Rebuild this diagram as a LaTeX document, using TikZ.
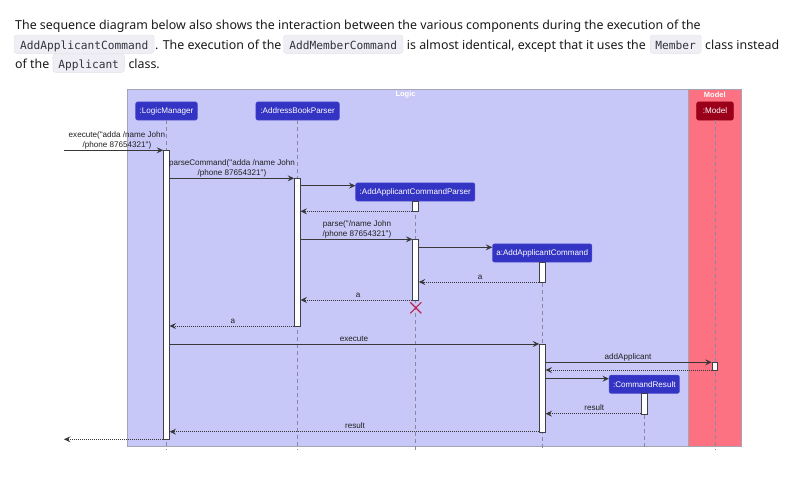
\documentclass[tikz,border=0pt]{standalone}
\usepackage{fontspec}
\setmainfont{Noto Sans}
\newfontfamily\diafont{Liberation Sans}
\newfontfamily\codefont{DejaVu Sans Mono}
\usetikzlibrary{arrows.meta,shapes.misc}
\definecolor{bodytext}{HTML}{1A1A1A}
\definecolor{codebg}{HTML}{EEEEF4}
\definecolor{codeborder}{HTML}{E2E2EA}
\definecolor{codetext}{HTML}{333340}
\definecolor{logicbg}{HTML}{C8C8F8}
\definecolor{logicborder}{HTML}{A4A4B4}
\definecolor{modelbg}{HTML}{FD7282}
\definecolor{partblue}{HTML}{3434C4}
\definecolor{partborder}{HTML}{5050D0}
\definecolor{modelpart}{HTML}{9A0019}
\definecolor{bardraw}{HTML}{404048}
\definecolor{lifegray}{HTML}{8888A0}
\definecolor{arrowgray}{HTML}{383838}
\definecolor{labeltext}{HTML}{202020}
\definecolor{destroyred}{HTML}{C0224E}
\tikzset{
  bodytxt/.style={font=\fontsize{12.4}{14}\selectfont, text=bodytext, inner sep=0pt, anchor=base west},
  codebox/.style={fill=codebg, draw=codeborder, line width=0.4pt, rounded corners=2.5pt, inner sep=0pt,
    text height=14pt, text depth=4.3pt, anchor=base west,
    font=\codefont\fontsize{11.2}{13}\selectfont, text=codetext},
  frame/.style={draw=logicborder, line width=0.6pt, inner sep=0pt},
  grouptitle/.style={font=\diafont\bfseries\fontsize{7.5}{9}\selectfont, text=white, inner sep=0pt},
  part/.style={fill=partblue, draw=partborder, line width=0.5pt, rounded corners=2pt, text=white,
    font=\diafont\fontsize{8.1}{9}\selectfont, inner sep=0pt, minimum height=18.3pt},
  actbar/.style={fill=white, draw=bardraw, line width=0.8pt, minimum width=5.6pt, inner sep=0pt},
  lifeline/.style={draw=lifegray, dash pattern=on 4pt off 3pt, line width=0.6pt},
  msg/.style={draw=arrowgray, line width=0.7pt, -{Stealth[length=6.5pt,width=6pt,inset=2.5pt]}},
  ret/.style={msg, dash pattern=on 1pt off 1pt},
  lbl/.style={font=\diafont\fontsize{8.1}{10}\selectfont, text=labeltext, inner sep=0pt, align=center},
  destroy/.style={cross out, draw=destroyred, line width=1.1pt, minimum size=10pt, inner sep=0pt}
}
\begin{document}
\begin{tikzpicture}[x=1pt,y=-1pt]
\useasboundingbox (0,0) rectangle (801,493);
% ---------- text above ----------
\node[bodytxt] (t1) at (15,29.5) {The sequence diagram below also shows the interaction between the various components during the execution of the};
\node[codebox, minimum width=140pt] (c1) at (14,49) {AddApplicantCommand};
\node[bodytxt] (t2) at (155,49) {. The execution of the};
\node[codebox, minimum width=119.5pt] (c2) at (283.3,49) {AddMemberCommand};
\node[bodytxt] (t3) at (406.7,49) {is almost identical, except that it uses the};
\node[codebox, minimum width=51pt] (c3) at (650,49) {Member};
\node[bodytxt] (t4) at (705,49) {class instead};
\node[bodytxt] (t5) at (15,68) {of the};
\node[codebox, minimum width=71.5pt] (c4) at (52.7,68) {Applicant};
\node[bodytxt] (t6) at (128.3,68) {class.};
% ---------- group frames ----------
\node[frame, fill=logicbg, minimum width=561pt, minimum height=357.5pt] (logic) at (407.5,267.75) {};
\node[frame, fill=modelbg, minimum width=53.5pt, minimum height=357.5pt] (model) at (714.75,267.75) {};
\node[grouptitle] (logict) at (405.5,95) {Logic};
\node[grouptitle] (modelt) at (714.75,95) {Model};
% ---------- participants ----------
\node[part, minimum width=61.6pt] (lm) at (166.5,111) {:LogicManager};
\node[part, minimum width=83.3pt] (abp) at (297.6,111) {:AddressBookParser};
\node[part, fill=modelpart, draw=modelpart, minimum width=36.6pt] (md) at (715,111) {:Model};
% bottom helper
\coordinate (bot) at (0,449.5);
% lifelines
\draw[lifeline] (lm.south) -- (lm.south |- bot);
\draw[lifeline] (abp.south) -- (abp.south |- bot);
\draw[lifeline] (md.south) -- (md.south |- bot);
% created participants
\node[part, minimum width=119.3pt] (acp) at (415.3,192) {:AddApplicantCommandParser};
\node[part, minimum width=99.4pt] (aac) at (542.2,253) {a:AddApplicantCommand};
\node[part, minimum width=70.3pt] (cr) at (644.3,384.2) {:CommandResult};
\draw[lifeline] (acp.south) -- (acp.south |- bot);
\draw[lifeline] (aac.south) -- (aac.south |- bot);
\draw[lifeline] (cr.south) -- (cr.south |- bot);
% ---------- activation bars ----------
\node[actbar, minimum height=289pt, anchor=north] (lmA) at (166.4,150.3) {};
\node[actbar, minimum height=147.8pt, anchor=north] (abpA) at (297.3,178.2) {};
\node[actbar, minimum height=10pt, anchor=north] (acpA) at (415.6,201.3) {};
\node[actbar, minimum height=60.7pt, anchor=north] (acpB) at (415.6,239.3) {};
\node[actbar, minimum height=19.7pt, anchor=north] (aacA) at (542.4,262.3) {};
\node[actbar, minimum height=87.5pt, anchor=north] (aacB) at (542.4,344) {};
\node[actbar, minimum height=7.7pt, anchor=north] (modA) at (714.9,362.3) {};
\node[actbar, minimum height=20.4pt, anchor=north] (crA) at (644.4,393.3) {};
% ---------- message levels ----------
\coordinate (y1) at (0,150.3);
\coordinate (y2) at (0,178.3);
\coordinate (y3) at (0,185.7);
\coordinate (y4) at (0,211.3);
\coordinate (y5) at (0,239.3);
\coordinate (y6) at (0,247.3);
\coordinate (y7) at (0,282);
\coordinate (y8) at (0,300);
\coordinate (y10) at (0,326);
\coordinate (y11) at (0,344);
\coordinate (y12) at (0,362.3);
\coordinate (y13) at (0,370);
\coordinate (y14) at (0,378.7);
\coordinate (y15) at (0,413.7);
\coordinate (y16) at (0,431.7);
\coordinate (y17) at (0,439.3);
\coordinate (inL) at (64,150.3);
\coordinate (outL) at (64,439.3);
% ---------- messages ----------
\draw[msg] (inL) -- (lmA.west |- y1);
\node[lbl, anchor=south] (l1) at (117,149.8) {execute("adda /name John\\/phone 87654321")};
\draw[msg] (lmA.east |- y2) -- (abpA.west |- y2);
\node[lbl, anchor=south] (l2) at (232,177.8) {parseCommand("adda /name John\\/phone 87654321")};
\draw[msg] (abpA.east |- y3) -- (acp.west |- y3);
\draw[ret] (acpA.west |- y4) -- (abpA.east |- y4);
\draw[msg] (abpA.east |- y5) -- (acpB.west |- y5);
\node[lbl, anchor=south] (l5) at (357,238.8) {parse("/name John\\/phone 87654321")};
\draw[msg] (acpB.east |- y6) -- (aac.west |- y6);
\draw[ret] (aacA.west |- y7) -- (acpB.east |- y7);
\node[lbl, anchor=base] (l7) at (480,279) {a};
\draw[ret] (acpB.west |- y8) -- (abpA.east |- y8);
\node[lbl, anchor=base] (l8) at (358,297) {a};
\node[destroy] (x1) at (415.8,307.8) {};
\draw[ret] (abpA.west |- y10) -- (lmA.east |- y10);
\node[lbl, anchor=base] (l10) at (233,323) {a};
\draw[msg] (lmA.east |- y11) -- (aacB.west |- y11);
\node[lbl, anchor=base] (l11) at (354,341) {execute};
\draw[msg] (aacB.east |- y12) -- (modA.west |- y12);
\node[lbl, anchor=base] (l12) at (628,359.3) {addApplicant};
\draw[ret] (modA.west |- y13) -- (aacB.east |- y13);
\draw[msg] (aacB.east |- y14) -- (cr.west |- y14);
\draw[ret] (crA.west |- y15) -- (aacB.east |- y15);
\node[lbl, anchor=base] (l15) at (594.3,410.7) {result};
\draw[ret] (aacB.west |- y16) -- (lmA.east |- y16);
\node[lbl, anchor=base] (l16) at (355,428.7) {result};
\draw[ret] (lmA.west |- y17) -- (outL);
\end{tikzpicture}
\end{document}
